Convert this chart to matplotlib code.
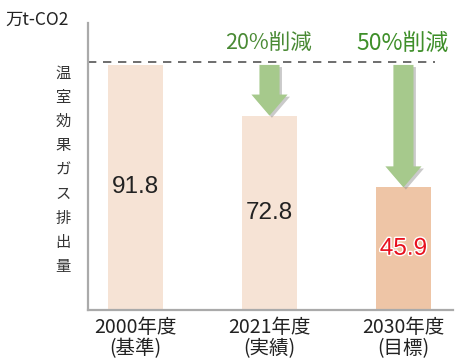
import matplotlib.pyplot as plt
import matplotlib.patheffects as pe
from matplotlib.patches import FancyArrow

plt.rcParams['font.family'] = ['Noto Sans CJK JP', 'DejaVu Sans']

categories = ["2000年度\n(基準)", "2021年度\n(実績)", "2030年度\n(目標)"]
values = [91.8, 72.8, 45.9]
bar_colors = ["#f6e3d5", "#f6e3d5", "#eec5a6"]
label_colors = ["#222222", "#222222", "#e8121f"]
cuts = ["20%削減", "50%削減"]
base_line = 92.9

fig = plt.figure(figsize=(4.6, 3.63), dpi=100)
ax = fig.add_axes([88 / 460, 1 - 310 / 363, 365 / 460, 287 / 363])
x = list(range(len(values)))
ax.bar(x, values, width=0.41, color=bar_colors, zorder=2)
ax.set_xlim(-0.355, 2.37)
ax.set_ylim(0, 107.5)

for xi, v, c in zip(x, values, label_colors):
    t = ax.text(xi, v / 2, f"{v}", ha="center", va="center",
                fontsize=17.5, color=c, zorder=3,
                family=['Liberation Sans', 'DejaVu Sans'])
    if xi == 2:
        t.set_path_effects([pe.withStroke(linewidth=2, foreground="white")])

ax.axhline(base_line, xmin=0, xmax=0.95, color="#555555", lw=1.2,
           dashes=(5, 4), zorder=1)

for xi, txt in zip(x[1:], cuts):
    top = values[0]
    length = top - values[xi]
    for dx, dy, col, a in [(0.018, -0.8, "#8a8a8a", 0.45), (0, 0, "#a6c98c", 1)]:
        arr = FancyArrow(xi + dx, top + dy, 0, -length, width=0.15, head_width=0.27,
                         head_length=7.9, length_includes_head=True,
                         color=col, alpha=a, lw=0, zorder=4)
        ax.add_patch(arr)
    ax.text(xi - 0.01, 99.8, txt, ha="center", va="center",
            fontsize=15.5 if xi == 1 else 16.5,
            color="#3f8f2a" if xi == 2 else "#4a8a35")

ax.set_xticks(x)
ax.set_xticklabels(categories, fontsize=14, color="#222222", linespacing=1.0)
ax.tick_params(axis="x", length=0, pad=5)
ax.set_yticks([])
for s in ["top", "right"]:
    ax.spines[s].set_visible(False)
for s in ["left", "bottom"]:
    ax.spines[s].set_color("#aaaaaa")
    ax.spines[s].set_linewidth(1.6)

fig.text(5 / 460, 1 - 20 / 363, "万t-CO2", fontsize=12.5, color="#222222",
         ha="left", va="center")
fig.text(63 / 460, 1 - 170 / 363, "\n".join("温室効果ガス排出量"), fontsize=11,
         color="#333333", ha="center", va="center", linespacing=1.55)

fig.savefig("out.png", dpi=100)
